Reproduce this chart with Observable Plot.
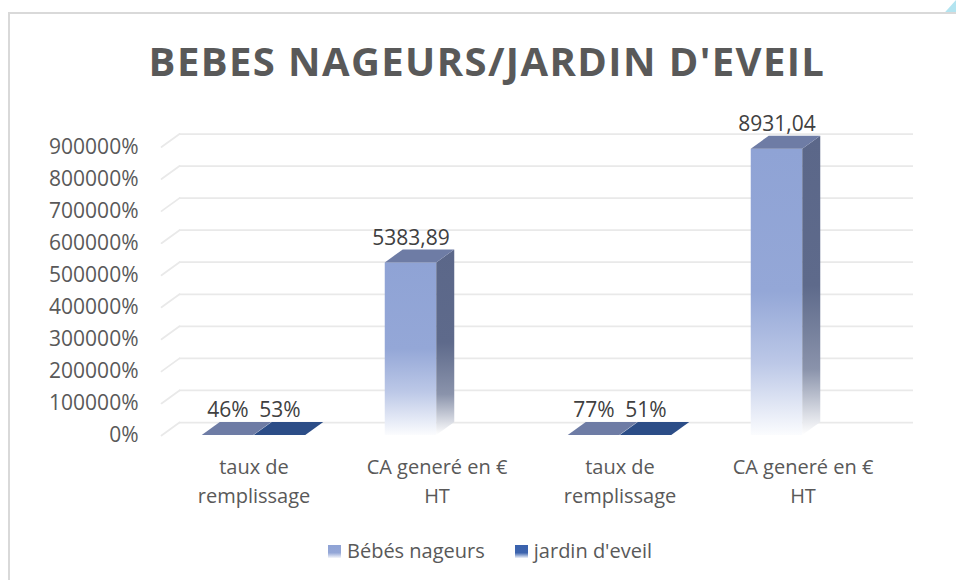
<!DOCTYPE html>
<html>
<head>
<meta charset="utf-8">
<script src="https://cdn.jsdelivr.net/npm/d3@7"></script>
<script src="https://cdn.jsdelivr.net/npm/@observablehq/plot@0.6"></script>
<style>
  html, body { margin: 0; padding: 0; background: #ffffff; }
  body { width: 956px; height: 580px; overflow: hidden; position: relative; font-family: "Open Sans", sans-serif; }
  #frame { position: absolute; left: 8px; top: 12px; width: 1000px; height: 700px; border-left: 2px solid #d9d9d9; border-top: 2px solid #d9d9d9; }
  #corner { position: absolute; left: 944px; top: 0px; width: 12px; height: 12px; background: #b3e4f0; clip-path: polygon(100% 0, 100% 100%, 10% 100%); }
  #title { position: absolute; left: 0; top: 41px; width: 974px; text-align: center; font-weight: 700; font-size: 40px; line-height: 40px; color: #595959; letter-spacing: 1.4px; white-space: nowrap; }
  #chart { position: absolute; left: 0; top: 100px; }
  #legend { position: absolute; left: 328px; top: 536px; display: flex; align-items: center; font-size: 20px; color: #595959; line-height: 30px; white-space: nowrap; }
  #legend .item { display: flex; align-items: center; }
  #legend .item + .item { margin-left: 30px; }
  #legend .sw { width: 13px; height: 13px; margin-right: 6px; }
</style>
</head>
<body>
<svg width="0" height="0" style="position:absolute">
  <defs>
    <linearGradient id="gFrontB" x1="0" y1="0" x2="0" y2="1">
      <stop offset="0" stop-color="#8fa3d5"/>
      <stop offset="0.5" stop-color="#94a7d7"/>
      <stop offset="0.75" stop-color="#bcc8e7"/>
      <stop offset="1" stop-color="#fbfcfe"/>
    </linearGradient>
    <linearGradient id="gSideB" x1="0" y1="0" x2="0" y2="1">
      <stop offset="0" stop-color="#5b6789"/>
      <stop offset="0.5" stop-color="#5e6a8b"/>
      <stop offset="0.78" stop-color="#8a93ab"/>
      <stop offset="1" stop-color="#ffffff"/>
    </linearGradient>
    <linearGradient id="gFrontJ" x1="0" y1="0" x2="0" y2="1">
      <stop offset="0" stop-color="#3a62ad"/>
      <stop offset="0.5" stop-color="#3d64ae"/>
      <stop offset="1" stop-color="#f5f7fc"/>
    </linearGradient>
    <linearGradient id="gSideJ" x1="0" y1="0" x2="0" y2="1">
      <stop offset="0" stop-color="#243f70"/>
      <stop offset="0.5" stop-color="#274373"/>
      <stop offset="1" stop-color="#ffffff"/>
    </linearGradient>
    <linearGradient id="gLegB" x1="0" y1="0" x2="0" y2="1">
      <stop offset="0" stop-color="#8fa3d5"/>
      <stop offset="0.6" stop-color="#94a7d7"/>
      <stop offset="1" stop-color="#f4f6fb"/>
    </linearGradient>
    <linearGradient id="gLegJ" x1="0" y1="0" x2="0" y2="1">
      <stop offset="0" stop-color="#3a62ad"/>
      <stop offset="0.6" stop-color="#3d64ae"/>
      <stop offset="1" stop-color="#eef2fa"/>
    </linearGradient>
  </defs>
</svg>
<div id="frame"></div>
<div id="corner"></div>
<div id="title">BEBES NAGEURS/JARDIN D'EVEIL</div>
<div id="chart"></div>
<div id="legend"></div>
<script>
// ---- data ----
const categories = ["taux de\nremplissage", "CA generé en €\nHT", "taux de\nremplissage", "CA generé en €\nHT"];
const seriesNames = ["Bébés nageurs", "jardin d'eveil"];
const bebesNageurs = [0.46, 5383.89, 0.77, 8931.04];
const jardinEveil = [0.53, null, 0.51, null];
const yTicks = [0, 1000, 2000, 3000, 4000, 5000, 6000, 7000, 8000, 9000];

// ---- table ----
const keys = categories.map((c, i) => String(i));
const rows = [];
categories.forEach((c, i) => {
  rows.push({key: keys[i], series: seriesNames[0], value: bebesNageurs[i]});
  rows.push({key: keys[i], series: seriesNames[1], value: jardinEveil[i]});
});
const rowsB = rows.filter(d => d.series === seriesNames[0] && d.value != null);
const rowsJ = rows.filter(d => d.series === seriesNames[1] && d.value != null);

const fr = d3.formatLocale({decimal: ",", thousands: "\u00a0", grouping: [3], currency: ["", " €"]});
const pct = d3.format(".0%");
const labelFmt = v => v < 1 ? pct(v) : fr.format(".2f")(v);

// 3D depth offsets (px)
const DX = 18, DY = -13;
const NS = "http://www.w3.org/2000/svg";

function faces(topColor, sideFill) {
  return function (index, scales, values, dimensions, context, next) {
    const g = next(index, scales, values, dimensions, context);
    const rects = Array.from(g.querySelectorAll("rect"));
    for (const r of rects) {
      const x = +r.getAttribute("x"), y = +r.getAttribute("y");
      const w = +r.getAttribute("width"), h = +r.getAttribute("height");
      const side = document.createElementNS(NS, "polygon");
      side.setAttribute("points", `${x + w},${y} ${x + w + DX},${y + DY} ${x + w + DX},${y + h + DY} ${x + w},${y + h}`);
      side.setAttribute("fill", sideFill);
      const top = document.createElementNS(NS, "polygon");
      top.setAttribute("points", `${x},${y} ${x + w},${y} ${x + w + DX},${y + DY} ${x + DX},${y + DY}`);
      top.setAttribute("fill", topColor);
      g.appendChild(side);
      g.appendChild(top);
    }
    return g;
  };
}

const diagShape = {
  draw(context, l) { context.moveTo(0, 0); context.lineTo(0, -l); }
};

const gridColor = "#e9e9e9";

const chart = Plot.plot({
  width: 956,
  height: 420,
  marginTop: 46.5,
  marginBottom: 85,
  marginLeft: 161,
  marginRight: 61,
  style: {fontFamily: "'Open Sans', sans-serif", background: "transparent", overflow: "visible"},
  x: {type: "band", domain: keys, padding: 0, axis: null, label: null},
  y: {domain: [0, 9000], axis: null, label: null},
  marks: [
    Plot.ruleY(yTicks, {y: d => d, dx: DX, dy: DY, stroke: gridColor, strokeWidth: 1.75}),
    Plot.vector(yTicks, {y: d => d, frameAnchor: "left", length: Math.hypot(DX, DY), rotate: Math.atan2(DX, -DY) * 180 / Math.PI, anchor: "start", shape: diagShape, stroke: gridColor, strokeWidth: 1.75}),
    Plot.axisY({ticks: yTicks, tickFormat: pct, tickSize: 0, tickPadding: 23, fontSize: 21, fill: "#595959", label: null}),
    Plot.axisX({tickFormat: k => categories[+k], tickSize: 0, tickPadding: 18, fontSize: 20, lineHeight: 1.45, fill: "#595959", label: null}),
    Plot.barY(rowsB, {x: "key", y: "value", fill: "url(#gFrontB)", insetLeft: 39.75, insetRight: 91.75, render: faces("#6e7ca5", "url(#gSideB)")}),
    Plot.barY(rowsJ, {x: "key", y: "value", fill: "url(#gFrontJ)", insetLeft: 91.75, insetRight: 39.75, render: faces("#2c4d87", "url(#gSideJ)")}),
    Plot.text(rowsB, {x: "key", y: "value", text: d => labelFmt(d.value), dx: -26, dy: -18, lineAnchor: "bottom", fontSize: 21, fill: "#404040"}),
    Plot.text(rowsJ, {x: "key", y: "value", text: d => labelFmt(d.value), dx: 26, dy: -18, lineAnchor: "bottom", fontSize: 21, fill: "#404040"})
  ]
});
document.getElementById("chart").appendChild(chart);

// legend
const legend = document.getElementById("legend");
const legFills = ["url(#gLegB)", "url(#gLegJ)"];
seriesNames.forEach((name, i) => {
  const item = document.createElement("div");
  item.className = "item";
  item.innerHTML = `<svg class="sw" width="13" height="13"><rect width="13" height="13" fill="${legFills[i]}"/></svg><span>${name}</span>`;
  legend.appendChild(item);
});
</script>
</body>
</html>
